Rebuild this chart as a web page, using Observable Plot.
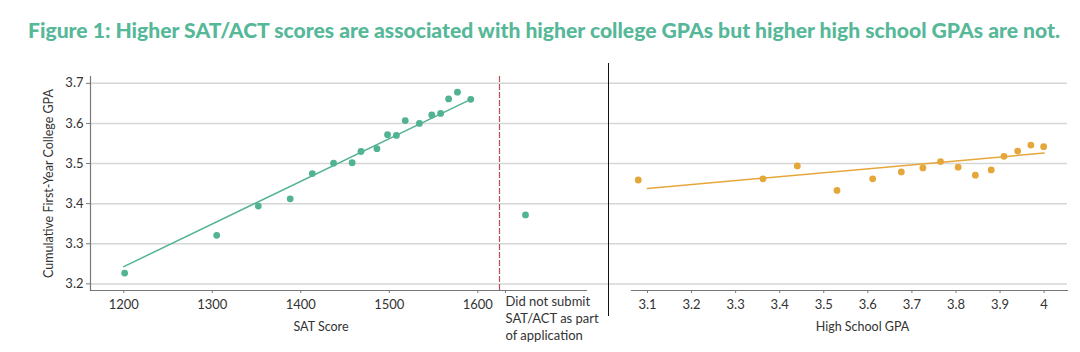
<!DOCTYPE html>
<html>
<head>
<meta charset="utf-8">
<script src="https://cdn.jsdelivr.net/npm/d3@7"></script>
<script src="https://cdn.jsdelivr.net/npm/@observablehq/plot@0.6"></script>
<style>
  html, body { margin: 0; padding: 0; background: #fff; }
  #root { position: relative; width: 1080px; height: 352px; overflow: hidden; font-family: Lato, "Open Sans", sans-serif; }
  #root > * { position: absolute; top: 0; }
  #sep { left: 608px; top: 63px; width: 0; height: 253px; border-left: 1.5px solid #111; }
</style>
</head>
<body>
<div id="root"></div>
<script>
// ---- Data ----
const titleText = "Figure 1: Higher SAT/ACT scores are associated with higher college GPAs but higher high school GPAs are not.";
const yLabel = "Cumulative First-Year College GPA";
const yTicks = [3.2, 3.3, 3.4, 3.5, 3.6, 3.7];

const satScore = [1201, 1305, 1352, 1388, 1413, 1437, 1458, 1468, 1486, 1498, 1508, 1518, 1534, 1548, 1558, 1567, 1577, 1592];
const satCollegeGPA = [3.227, 3.321, 3.394, 3.412, 3.475, 3.501, 3.502, 3.530, 3.537, 3.572, 3.570, 3.607, 3.600, 3.621, 3.625, 3.661, 3.678, 3.660];
const satTicks = [1200, 1300, 1400, 1500, 1600];
const satTrendX = [1200, 1595];
const satTrendY = [3.243, 3.663];

const noTestCategory = ["Did not submit\nSAT/ACT as part\nof application"];
const noTestCollegeGPA = [3.372];

const hsGPA = [3.079, 3.362, 3.440, 3.530, 3.611, 3.676, 3.725, 3.765, 3.805, 3.844, 3.880, 3.909, 3.940, 3.970, 3.999];
const hsCollegeGPA = [3.459, 3.462, 3.494, 3.433, 3.462, 3.479, 3.489, 3.505, 3.491, 3.471, 3.484, 3.518, 3.531, 3.546, 3.542];
const hsTicks = [3.1, 3.2, 3.3, 3.4, 3.5, 3.6, 3.7, 3.8, 3.9, 4];
const hsTrendX = [3.10, 4.00];
const hsTrendY = [3.438, 3.526];

// ---- Style ----
const green = "#52b393";
const orange = "#e5a73a";
const gridColor = "#d6d6d6";
const axisColor = "#777";
const textColor = "#333";
const H = 352, MT = 76, MB = 62;
const yDomain = [3.1835, 3.717];
const font = "Lato, 'Open Sans', sans-serif";
const baseStyle = {fontFamily: font, fontSize: "13px", color: textColor, background: "transparent", overflow: "visible"};

const root = document.getElementById("root");
function place(el, left) { el.style.left = left + "px"; el.style.position = "absolute"; el.style.top = "0px"; root.appendChild(el); }

// Title
const ns = "http://www.w3.org/2000/svg";
const tsvg = document.createElementNS(ns, "svg");
tsvg.setAttribute("width", 1080); tsvg.setAttribute("height", 50);
const tt = document.createElementNS(ns, "text");
tt.setAttribute("x", 28); tt.setAttribute("y", 38);
tt.setAttribute("textLength", 1032); tt.setAttribute("lengthAdjust", "spacingAndGlyphs");
tt.setAttribute("fill", "#56b898"); tt.setAttribute("font-family", font);
tt.setAttribute("font-weight", "900"); tt.setAttribute("font-size", "21px");
tt.textContent = titleText;
tsvg.appendChild(tt);
place(tsvg, 0);

// Background: y axis + full-width gridlines
const bg = Plot.plot({
  width: 1080, height: H, marginLeft: 90, marginRight: 13, marginTop: MT, marginBottom: MB,
  style: baseStyle,
  x: {domain: [0, 1], axis: null},
  y: {domain: yDomain, ticks: yTicks, tickFormat: d3.format(".1f"), label: null},
  marks: [
    Plot.gridY(yTicks, {stroke: gridColor, strokeOpacity: 1, strokeWidth: 1.5}),
    Plot.axisY(yTicks, {tickSize: 4, tickPadding: 3, stroke: axisColor, fill: textColor, tickFormat: d3.format(".1f"), label: null}),
    Plot.frame({anchor: "left", stroke: axisColor, strokeWidth: 1.2}),
    Plot.text([yLabel], {frameAnchor: "left", textAnchor: "middle", rotate: -90, dx: -42, fill: textColor, fontSize: 12.5})
  ]
});
place(bg, 0);

// Panel A: SAT score
const satData = satScore.map((s, i) => ({s, g: satCollegeGPA[i]}));
const satTrend = satTrendX.map((s, i) => ({s, g: satTrendY[i]}));
const pA = Plot.plot({
  width: 499, height: H, marginLeft: 90, marginRight: 0, marginTop: MT, marginBottom: MB,
  style: baseStyle,
  x: {domain: [1162.4, 1624.5], label: null},
  y: {domain: yDomain, axis: null},
  marks: [
    Plot.frame({anchor: "bottom", stroke: axisColor, strokeWidth: 1.2}),
    Plot.axisX(satTicks, {tickSize: 3, tickPadding: 6, stroke: axisColor, fill: textColor, label: null, tickFormat: d => String(d)}),
    Plot.line(satTrend, {x: "s", y: "g", stroke: green, strokeWidth: 1.5}),
    Plot.dot(satData, {x: "s", y: "g", r: 3.4, fill: green, stroke: "none"}),
    Plot.text(["SAT Score"], {frameAnchor: "bottom", dx: 26, dy: 40, fill: textColor, fontSize: 12.5})
  ]
});
place(pA, 0);

// Panel B: did not submit
const noData = noTestCategory.map((c, i) => ({c, g: noTestCollegeGPA[i]}));
const pB = Plot.plot({
  width: 110, height: H, marginLeft: 0, marginRight: 23, marginTop: MT, marginBottom: MB,
  style: baseStyle,
  x: {type: "point", domain: noTestCategory, padding: 0.3, align: 0.3, label: null},
  y: {domain: yDomain, axis: null},
  marks: [
    Plot.frame({anchor: "bottom", stroke: axisColor, strokeWidth: 1.2}),
    Plot.frame({anchor: "left", stroke: "#bf4b54", strokeWidth: 1.2, strokeDasharray: "5,3"}),
    Plot.axisX({tickSize: 3, tickPadding: 1, stroke: axisColor, fill: textColor, label: null, textAnchor: "start", dx: -20, lineHeight: 1.28, fontSize: 13}),
    Plot.dot(noData, {x: "c", y: "g", r: 3.4, fill: green, stroke: "none"})
  ]
});
place(pB, 499);

// Panel C: high school GPA
const hsData = hsGPA.map((h, i) => ({h, g: hsCollegeGPA[i]}));
const hsTrend = hsTrendX.map((h, i) => ({h, g: hsTrendY[i]}));
const pC = Plot.plot({
  width: 472, height: H, marginLeft: 23, marginRight: 13, marginTop: MT, marginBottom: MB,
  style: baseStyle,
  x: {domain: [3.0637, 4.0531], label: null},
  y: {domain: yDomain, axis: null},
  marks: [
    Plot.frame({anchor: "bottom", stroke: axisColor, strokeWidth: 1.2}),
    Plot.axisX(hsTicks, {tickSize: 3, tickPadding: 6, stroke: axisColor, fill: textColor, label: null, tickFormat: d => String(d)}),
    Plot.line(hsTrend, {x: "h", y: "g", stroke: orange, strokeWidth: 1.5}),
    Plot.dot(hsData, {x: "h", y: "g", r: 3.4, fill: orange, stroke: "none"}),
    Plot.text(["High School GPA"], {frameAnchor: "bottom", dx: 13, dy: 40, fill: textColor, fontSize: 12.5})
  ]
});
place(pC, 608);

// Separator between panels
const sep = document.createElement("div");
sep.id = "sep";
root.appendChild(sep);
</script>
</body>
</html>
